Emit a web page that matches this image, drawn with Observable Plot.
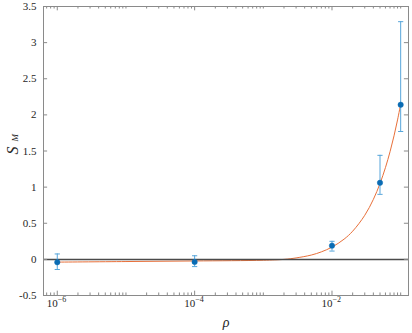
<!DOCTYPE html>
<html>
<head>
<meta charset="utf-8">
<script src="https://cdn.jsdelivr.net/npm/d3@7"></script>
<script src="https://cdn.jsdelivr.net/npm/@observablehq/plot@0.6"></script>
<style>
  html, body { margin: 0; padding: 0; background: #fff; }
  svg text { font-family: "Liberation Serif", "DejaVu Serif", serif; }
</style>
</head>
<body>
<div id="chart"></div>
<script>
// Measured points (rho, S_M) with error-bar bounds
const rho = [1e-6, 1e-4, 1e-2, 0.05, 0.1];
const SM = [-0.04, -0.035, 0.19, 1.06, 2.14];
const errLow = [-0.14, -0.10, 0.115, 0.90, 1.77];
const errHigh = [0.075, 0.05, 0.25, 1.44, 3.29];

// Fitted curve
const fitRho = [1e-6, 1e-5, 1e-4, 1e-3, 2e-3, 3e-3, 5e-3, 7e-3, 0.01, 0.015, 0.02, 0.03, 0.04, 0.05, 0.06, 0.07, 0.08, 0.09, 0.1];
const fitSM = [-0.038, -0.03, -0.022, -0.012, 0.0, 0.02, 0.06, 0.104, 0.17, 0.28, 0.39, 0.61, 0.83, 1.05, 1.27, 1.49, 1.71, 1.93, 2.15];

// Tick values
const yTicks = [-0.5, 0, 0.5, 1, 1.5, 2, 2.5, 3, 3.5];
const xMajor = [1e-6, 1e-4, 1e-2];
const xMinor = [7e-7, 8e-7, 9e-7,
  2e-6, 3e-6, 4e-6, 5e-6, 6e-6, 7e-6, 8e-6, 9e-6,
  1e-5, 2e-5, 3e-5, 4e-5, 5e-5, 6e-5, 7e-5, 8e-5, 9e-5,
  2e-4, 3e-4, 4e-4, 5e-4, 6e-4, 7e-4, 8e-4, 9e-4,
  1e-3, 2e-3, 3e-3, 4e-3, 5e-3, 6e-3, 7e-3, 8e-3, 9e-3,
  2e-2, 3e-2, 4e-2, 5e-2, 6e-2, 7e-2, 8e-2, 9e-2, 1e-1];

// Axis titles
const xTitle = "\u03C1";
const yTitleMain = "S";
const yTitleSub = "M";

const xDomain = [6.3e-7, 0.13];
const yDomain = [-0.5, 3.5];

const points = rho.map((r, i) => ({rho: r, sm: SM[i], lo: errLow[i], hi: errHigh[i]}));
const fit = fitRho.map((r, i) => ({rho: r, sm: fitSM[i]}));

const FONT = "Liberation Serif";
const capSymbol = {
  draw(context, size) {
    const w = Math.sqrt(size / Math.PI);
    context.moveTo(-w, 0);
    context.lineTo(w, 0);
  }
};

// inward tick lengths (data-space offsets)
const xTickLenMajor = 0.06, xTickLenMinor = 0.035;
const yTickLen = Math.pow(10, 0.06);

const frameColor = "#8a8a8a";
const textColor = "#262626";

const chart = Plot.plot({
  width: 412,
  height: 333,
  marginLeft: 43,
  marginRight: 4,
  marginTop: 6,
  marginBottom: 38,
  style: {fontFamily: FONT, fontSize: "11px", background: "#fff", color: textColor},
  x: {type: "log", domain: xDomain, label: null, axis: null},
  y: {domain: yDomain, label: null, axis: null},
  marks: [
    Plot.line(fit, {x: "rho", y: "sm", stroke: "#E8703A", strokeWidth: 1, curve: "catmull-rom"}),
    Plot.ruleY([0], {stroke: "#4a4a4a", strokeWidth: 1.5}),
    Plot.ruleX(points, {x: "rho", y1: "lo", y2: "hi", stroke: "#56A5DA", strokeWidth: 1}),
    Plot.dot(points, {x: "rho", y: "lo", symbol: capSymbol, r: 2.6, stroke: "#56A5DA", strokeWidth: 1, fill: "none"}),
    Plot.dot(points, {x: "rho", y: "hi", symbol: capSymbol, r: 2.6, stroke: "#56A5DA", strokeWidth: 1, fill: "none"}),
    Plot.dot(points, {x: "rho", y: "sm", r: 2.7, fill: "#0A6CB4", stroke: "#0A6CB4", strokeWidth: 0.5}),
    // inward tick marks
    Plot.ruleX(xMajor, {y1: yDomain[0], y2: yDomain[0] + xTickLenMajor, stroke: frameColor}),
    Plot.ruleX(xMinor, {y1: yDomain[0], y2: yDomain[0] + xTickLenMinor, stroke: frameColor}),
    Plot.ruleX(xMajor, {y1: yDomain[1], y2: yDomain[1] - xTickLenMajor, stroke: frameColor}),
    Plot.ruleX(xMinor, {y1: yDomain[1], y2: yDomain[1] - xTickLenMinor, stroke: frameColor}),
    Plot.ruleY(yTicks, {x1: xDomain[0], x2: xDomain[0] * yTickLen, stroke: frameColor}),
    Plot.ruleY(yTicks, {x1: xDomain[1], x2: xDomain[1] / yTickLen, stroke: frameColor}),
    Plot.frame({stroke: frameColor, strokeWidth: 1}),
    // y tick labels
    Plot.text(yTicks, {y: d => d, frameAnchor: "left", text: d => String(d), textAnchor: "end", dx: -7, fontSize: 11, fontFamily: FONT, fill: textColor}),
    // x tick labels: base and exponent
    Plot.text(xMajor, {x: d => d, frameAnchor: "bottom", text: d => "10", dx: -5, dy: 11, fontSize: 11, fontFamily: FONT, fill: textColor}),
    Plot.text(xMajor, {x: d => d, frameAnchor: "bottom", text: d => "\u2212" + Math.abs(Math.round(Math.log10(d))), textAnchor: "start", dx: 0.5, dy: 6.5, fontSize: 8, fontFamily: FONT, fill: textColor}),
    // axis titles
    Plot.text([xTitle], {frameAnchor: "bottom", dy: 31, fontSize: 14, fontStyle: "italic", fontFamily: FONT, fill: textColor}),
    Plot.text([yTitleMain], {y: () => 1.45, frameAnchor: "left", dx: -31, rotate: -90, fontSize: 16, fontStyle: "italic", fontFamily: FONT, fill: textColor}),
    Plot.text([yTitleSub], {y: () => 1.63, frameAnchor: "left", dx: -28, rotate: -90, fontSize: 9, fontStyle: "italic", fontFamily: FONT, fill: textColor})
  ]
});
document.getElementById("chart").appendChild(chart);
</script>
</body>
</html>
